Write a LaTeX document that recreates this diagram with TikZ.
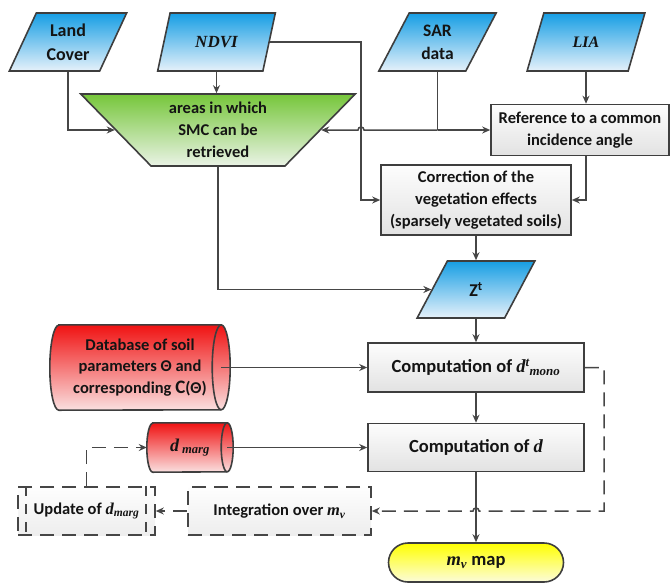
\documentclass[tikz,border=0pt]{standalone}
\usepackage{fontspec}
\setmainfont{Carlito}
\newfontfamily\tms{Liberation Serif}
\usetikzlibrary{shapes.geometric,arrows.meta,backgrounds}

\definecolor{edge}{RGB}{62,62,62}
\definecolor{wirecol}{RGB}{70,70,70}
\definecolor{bluetop}{RGB}{22,158,228}
\definecolor{bluebot}{RGB}{230,241,250}
\definecolor{greentop}{RGB}{118,198,58}
\definecolor{greenbot}{RGB}{234,243,230}
\definecolor{redtop}{RGB}{240,18,18}
\definecolor{redbot}{RGB}{250,224,224}
\definecolor{yeltop}{RGB}{255,255,0}
\definecolor{yelbot}{RGB}{252,252,218}
\definecolor{boxtop}{RGB}{253,253,253}
\definecolor{boxbot}{RGB}{226,226,226}

\newcommand{\fs}[1]{\fontsize{#1}{1.32\dimexpr #1pt\relax}\selectfont\bfseries}

\tikzset{
  base/.style={draw=edge, line width=1.6pt, align=center, inner sep=0pt,
    text=black!92, font=\fs{16.5}},
  datain/.style={base, trapezium, trapezium left angle=63.4,
    trapezium right angle=116.6, trapezium stretches=true,
    minimum width=118pt, minimum height=58pt,
    top color=bluetop, bottom color=bluebot},
  areas/.style={base, trapezium, trapezium left angle=133,
    trapezium right angle=133, trapezium stretches=true,
    minimum width=275pt, minimum height=72pt,
    top color=greentop, bottom color=greenbot},
  procbox/.style={base, rectangle, top color=boxtop, bottom color=boxbot},
  dashbox/.style={base, rectangle, draw=wirecol, dash pattern=on 14pt off 8pt,
    top color=boxtop!60!white, bottom color=boxbot!60!white},
  storetext/.style={rectangle, align=center, inner sep=0pt,
    text=black!92, font=\fs{16.5}},
  storebody/.style={draw=edge, line width=1.6pt, top color=redtop, bottom color=redbot},
  storeface/.style={draw=edge, line width=1.6pt},
  result/.style={base, rectangle, rounded corners=19.5pt,
    top color=yeltop, bottom color=yelbot},
  wire/.style={draw=wirecol, line width=1.5pt,
    -{Stealth[length=8pt,width=7pt]}},
  plain/.style={draw=wirecol, line width=1.5pt},
  dashwire/.style={wire, dash pattern=on 14pt off 8pt}
}

% horizontal cylinder drawn around a text node: #1 node, #2 end radius, #3 half height
\newcommand{\cylaround}[3]{%
  \path[storebody] ([xshift=#2]#1.north west) -- ([xshift=-#2]#1.north east)
    arc[start angle=90, end angle=-90, x radius=#2, y radius=#3]
    -- ([xshift=#2]#1.south west)
    arc[start angle=270, end angle=90, x radius=#2, y radius=#3] -- cycle;
  \draw[storeface] ([xshift=-#2]#1.north east)
    arc[start angle=90, end angle=270, x radius=#2, y radius=#3];}

\begin{document}
\begin{tikzpicture}[x=1pt,y=-1pt]
\useasboundingbox (0,0) rectangle (672,584);

% inputs
\node[datain, font=\fs{18}] (lc) at (68,42) {Land\\Cover};
\node[datain, font=\fs{17}] (ndvi) at (216.5,42) {\tms\itshape NDVI};
\node[datain, font=\fs{17.5}] (sar) at (437.5,42) {SAR\\data};
\node[datain, font=\fs{16}] (lia) at (586,42) {\tms\itshape LIA};

% processing chain
\node[areas] (trap) at (218,130) {areas in which\\SMC can be\\retrieved};
\node[procbox, minimum width=178pt, minimum height=51pt] (ref) at (580,130)
  {Reference to a common\\incidence angle};
\node[procbox, minimum width=190pt, minimum height=70pt] (corr) at (476,200)
  {Correction of the\\vegetation effects\\(sparsely vegetated soils)};
\node[datain, font=\fs{18}, minimum height=57pt] (zt) at (476,289.5) {Z\textsuperscript{t}};
\node[procbox, font=\fs{18.5}, minimum width=216pt, minimum height=49pt] (mono) at (476,367.5)
  {Computation of {\tms\itshape d\textsuperscript{t}\textsubscript{mono}}};
\node[procbox, font=\fs{18.5}, minimum width=216pt, minimum height=48pt] (cd) at (476,447.5)
  {Computation of {\tms\itshape d}};
\node[result, font=\fs{18.5}, minimum width=175pt, minimum height=39pt] (map) at (476,562.5)
  {{\tms\itshape m\textsubscript{v}} map};

% databases
\node[storetext, minimum width=180pt, minimum height=85pt] (db) at (140,367.5)
  {Database of soil\\parameters Θ and\\corresponding {\fs{19}C}(Θ)};
\node[storetext, minimum width=86pt, minimum height=49pt, font=\fs{18}] (dm) at (190,447.5)
  {{\tms\itshape d\,\textsubscript{marg}}};
\begin{scope}[on background layer]
  \cylaround{db}{9pt}{42.5pt}
  \cylaround{dm}{6pt}{24.5pt}
\end{scope}

% marginal update loop
\node[dashbox, minimum width=137pt, minimum height=48pt] (upd) at (86.5,511)
  {Update of {\tms\itshape d\textsubscript{marg}}};
\node[dashbox, minimum width=183pt, minimum height=48pt] (integ) at (279.5,511)
  {Integration over {\tms\itshape m\textsubscript{v}}};
\draw[plain, dash pattern=on 10pt off 8pt] ([xshift=9pt]upd.north west) -- ([xshift=9pt]upd.south west);
\draw[plain, dash pattern=on 10pt off 8pt] ([xshift=-10pt]upd.north east) -- ([xshift=-10pt]upd.south east);

% helper columns for routed wires
\coordinate (nx) at (361,0);
\coordinate (fb) at (604,0);

% connectors
\draw[wire] (lc.center |- lc.south) |- (trap.west);
\draw[wire] (ndvi.center |- ndvi.south) -- (ndvi.center |- trap.north);
\draw[wire] (ndvi.east) -| (nx |- corr.west) -- (corr.west);
\draw[plain] (sar.center |- sar.south) -- (sar.center |- ref.west);
\draw[wire] (sar.center |- ref.west) -- (ref.west);
\draw[wire] (sar.center |- ref.west) -- ([xshift=3pt]nx |- ref.west)
  arc[start angle=0, end angle=180, radius=3pt] -- (trap.east);
\draw[wire] (lia.center |- lia.south) -- (lia.center |- ref.north);
\draw[wire] (lia.center |- ref.south) |- (corr.east);
\draw[wire] (corr.south) -- (corr.south |- zt.north);
\draw[wire] (trap.south) |- (zt.west);
\draw[wire] (zt.center |- zt.south) -- (mono.north);
\draw[wire] ([xshift=-9pt]db.east) -- (mono.west);
\draw[wire] (mono.south) -- (cd.north);
\draw[wire] ([xshift=-6pt]dm.east) -- (cd.west);
\draw[wire] (cd.south) -- (map.north);
\draw[dashwire] (mono.east) -| (fb |- integ.east) -- ([xshift=3pt]cd.south |- integ.east)
  arc[start angle=0, end angle=180, radius=3pt] -- (integ.east);
\draw[dashwire] (integ.west) -- (upd.east);
\draw[dashwire] (upd.north) |- (dm.west);
\end{tikzpicture}
\end{document}
